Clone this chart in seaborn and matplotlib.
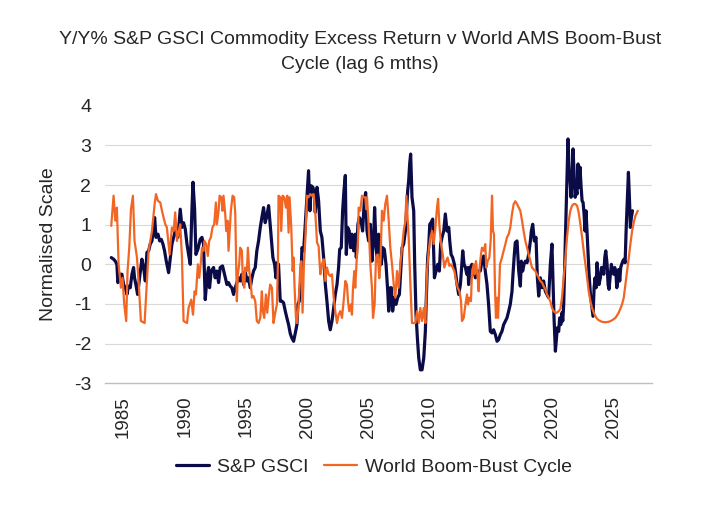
import matplotlib
matplotlib.use("Agg")
import matplotlib.pyplot as plt
import seaborn as sns

# -------------------------------
# Data (decimal years)
# -------------------------------
gsci_year = [
    1984.00, 1984.19, 1984.33, 1984.46, 1984.54, 1984.73, 1984.87, 1985.01, 1985.14, 1985.28,
    1985.41, 1985.55, 1985.69, 1985.82, 1985.90, 1986.01, 1986.15, 1986.31, 1986.50, 1986.64,
    1986.78, 1986.91, 1987.05, 1987.18, 1987.32, 1987.46, 1987.54, 1987.65, 1987.81, 1987.95,
    1988.08, 1988.22, 1988.35, 1988.49, 1988.68, 1988.82, 1988.95, 1989.22, 1989.44, 1989.63,
    1989.77, 1989.90, 1990.04, 1990.18, 1990.31, 1990.45, 1990.58, 1990.67, 1990.80, 1990.91,
    1991.07, 1991.26, 1991.40, 1991.53, 1991.67, 1991.81, 1991.94, 1992.02, 1992.16, 1992.35,
    1992.48, 1992.62, 1992.76, 1992.89, 1993.08, 1993.24, 1993.44, 1993.57, 1993.71, 1993.84,
    1993.98, 1994.12, 1994.25, 1994.39, 1994.52, 1994.66, 1994.80, 1994.93, 1995.07, 1995.20,
    1995.34, 1995.48, 1995.61, 1995.75, 1995.88, 1996.02, 1996.16, 1996.29, 1996.43, 1996.56,
    1996.70, 1996.84, 1996.92, 1997.05, 1997.19, 1997.33, 1997.44, 1997.52, 1997.65, 1997.79,
    1997.93, 1998.06, 1998.20, 1998.33, 1998.47, 1998.61, 1998.74, 1998.88, 1999.02, 1999.15,
    1999.23, 1999.34, 1999.48, 1999.56, 1999.70, 1999.83, 1999.97, 2000.10, 2000.21, 2000.32,
    2000.46, 2000.57, 2000.65, 2000.79, 2000.92, 2001.06, 2001.19, 2001.33, 2001.47, 2001.60,
    2001.74, 2001.87, 2002.01, 2002.15, 2002.28, 2002.42, 2002.55, 2002.64, 2002.77, 2002.88,
    2002.99, 2003.10, 2003.18, 2003.29, 2003.42, 2003.53, 2003.64, 2003.78, 2003.91, 2004.00,
    2004.13, 2004.24, 2004.38, 2004.51, 2004.65, 2004.76, 2004.87, 2005.00, 2005.14, 2005.27,
    2005.41, 2005.49, 2005.60, 2005.71, 2005.82, 2005.96, 2006.04, 2006.15, 2006.28, 2006.42,
    2006.56, 2006.64, 2006.77, 2006.86, 2006.96, 2007.10, 2007.24, 2007.37, 2007.51, 2007.65,
    2007.73, 2007.86, 2008.00, 2008.08, 2008.19, 2008.27, 2008.35, 2008.43, 2008.54, 2008.68,
    2008.76, 2008.87, 2008.98, 2009.09, 2009.22, 2009.36, 2009.50, 2009.63, 2009.71, 2009.82,
    2009.90, 2009.99, 2010.09, 2010.23, 2010.37, 2010.50, 2010.64, 2010.77, 2010.88, 2010.99,
    2011.13, 2011.26, 2011.40, 2011.54, 2011.62, 2011.73, 2011.86, 2012.00, 2012.08, 2012.22,
    2012.35, 2012.49, 2012.57, 2012.68, 2012.79, 2012.90, 2013.01, 2013.11, 2013.16, 2013.30,
    2013.43, 2013.57, 2013.71, 2013.84, 2013.98, 2014.11, 2014.25, 2014.39, 2014.52, 2014.66,
    2014.79, 2014.93, 2015.07, 2015.20, 2015.34, 2015.48, 2015.61, 2015.75, 2015.88, 2016.02,
    2016.16, 2016.29, 2016.43, 2016.56, 2016.70, 2016.78, 2016.89, 2016.97, 2017.11, 2017.25,
    2017.38, 2017.46, 2017.57, 2017.68, 2017.79, 2017.93, 2018.06, 2018.20, 2018.28, 2018.39,
    2018.52, 2018.66, 2018.77, 2018.88, 2019.01, 2019.15, 2019.28, 2019.42, 2019.56, 2019.69,
    2019.83, 2019.96, 2020.02, 2020.13, 2020.24, 2020.40, 2020.51, 2020.59, 2020.68, 2020.78,
    2020.84, 2020.92, 2021.00, 2021.08, 2021.19, 2021.27, 2021.36, 2021.44, 2021.52, 2021.60,
    2021.68, 2021.76, 2021.85, 2021.93, 2022.01, 2022.09, 2022.17, 2022.25, 2022.34, 2022.42,
    2022.50, 2022.58, 2022.66, 2022.74, 2022.83, 2022.91, 2022.99, 2023.10, 2023.23, 2023.31,
    2023.40, 2023.48, 2023.56, 2023.64, 2023.72, 2023.80, 2023.91, 2024.00, 2024.08, 2024.19,
    2024.27, 2024.35, 2024.46, 2024.54, 2024.62, 2024.70, 2024.81, 2024.89, 2025.00, 2025.08,
    2025.17, 2025.25, 2025.33, 2025.41, 2025.49, 2025.57, 2025.65, 2025.74, 2025.85, 2025.93,
    2026.01, 2026.12, 2026.20, 2026.28, 2026.36, 2026.44, 2026.53,
]
gsci_value = [
    0.17, 0.13, 0.08, 0.00, -0.46, -0.25, -0.25, -0.51, -0.59, -0.76,
    -0.55, -0.59, -0.25, -0.08, -0.34, -0.51, -0.76, -0.34, 0.13, -0.08,
    -0.42, 0.30, 0.34, 0.51, 0.59, 0.93, 1.18, 0.68, 0.76, 0.59,
    0.63, 0.51, 0.34, 0.08, -0.21, 0.17, 0.51, 0.84, 0.68, 1.39,
    0.93, 1.05, 0.89, 0.51, 0.25, 0.00, 1.35, 2.07, 1.40, 0.25,
    0.38, 0.63, 0.68, 0.51, -0.89, -0.34, -0.08, -0.59, -0.17, -0.08,
    -0.34, -0.17, -0.46, -0.08, -0.04, -0.25, -0.51, -0.46, -0.55, -0.59,
    -0.76, -0.59, -0.46, -0.34, -0.42, -0.25, -0.51, -0.17, -0.42, -0.34,
    -0.59, -0.34, -0.17, -0.08, 0.34, 0.59, 0.93, 1.18, 1.43, 1.05,
    1.22, 1.48, 1.18, 0.68, 0.17, 0.00, -0.34, 0.04, 0.00, -0.93,
    -0.93, -0.97, -1.18, -1.35, -1.52, -1.75, -1.86, -1.94, -1.73, -1.52,
    -1.01, -0.93, -0.34, 0.42, 0.34, 1.01, 1.77, 2.36, 1.35, 1.98,
    1.94, 1.77, 1.31, 1.94, 1.60, 0.84, 0.68, 0.17, -0.51, -0.93,
    -1.43, -1.65, -1.43, -1.10, -0.76, -0.51, -0.08, 0.38, 0.42, 1.35,
    1.86, 2.24, 0.25, 0.93, 0.84, 0.42, 0.76, 0.34, 0.76, 0.17,
    1.01, 1.18, 1.10, 0.84, 1.60, 1.81, 0.84, 0.59, 1.01, 0.08,
    0.68, 1.43, 0.51, 0.08, 0.76, 0.59, 0.00, 0.42, 0.38, 0.00,
    -0.68, -1.18, -0.59, -0.59, -1.18, -0.84, -1.01, -0.84, -0.76, 0.00,
    0.42, 0.51, 0.84, 1.27, 1.86, 2.11, 2.53, 2.78, 1.69, 1.35,
    0.00, -1.27, -1.86, -2.36, -2.66, -2.66, -2.36, -1.69, -0.84, 0.17,
    0.42, 1.01, 1.05, 1.14, -0.34, -0.17, 0.00, -0.17, 0.51, 0.68,
    0.84, 1.27, 0.84, 0.93, 0.59, 0.25, 0.17, 0.00, -0.17, -0.51,
    -0.76, -0.51, -0.17, 0.34, 0.00, -0.08, -0.25, -0.08, -0.51, -0.08,
    0.00, -0.08, -0.34, -0.25, -0.17, -0.17, 0.08, 0.21, -0.17, -0.51,
    -1.01, -1.69, -1.73, -1.65, -1.77, -1.94, -1.90, -1.77, -1.69, -1.52,
    -1.43, -1.35, -1.18, -1.01, -0.68, -0.25, 0.25, 0.55, 0.59, -0.17,
    -0.55, 0.08, -0.17, 0.00, 0.08, 0.04, 0.25, 0.59, 0.84, 1.01,
    0.59, 0.68, -0.34, -0.80, -0.34, -0.59, -0.42, -0.68, -0.76, -0.84,
    0.00, 0.51, -0.17, -1.35, -2.19, -1.60, -1.69, -1.35, -1.52, -1.22,
    -1.43, -1.01, 0.00, 0.93, 2.19, 3.16, 2.36, 2.11, 1.69, 2.19,
    2.91, 2.36, 1.69, 1.86, 1.77, 2.53, 1.94, 2.45, 1.94, 1.60,
    1.56, 1.27, 0.84, 1.35, 0.76, 0.25, -0.25, -0.76, -1.10, -1.31,
    -0.59, -0.34, -0.59, 0.04, -0.34, -0.51, -0.34, -0.08, -0.08, -0.25,
    0.17, 0.34, 0.00, -0.51, -0.63, -0.34, 0.00, -0.17, -0.25, -0.08,
    -0.17, -0.59, -0.42, -0.13, -0.42, -0.08, 0.00, 0.08, 0.13, 0.04,
    0.84, 1.69, 2.32, 1.69, 0.93, 1.18, 1.35,
]

boom_year = [
    1984.00, 1984.19, 1984.33, 1984.46, 1984.60, 1984.79, 1984.92, 1985.06, 1985.22, 1985.33,
    1985.47, 1985.61, 1985.77, 1985.90, 1986.10, 1986.23, 1986.42, 1986.72, 1986.91, 1987.05,
    1987.32, 1987.54, 1987.65, 1987.81, 1988.00, 1988.14, 1988.27, 1988.41, 1988.54, 1988.68,
    1988.76, 1988.95, 1989.09, 1989.22, 1989.36, 1989.50, 1989.63, 1989.77, 1989.90, 1990.18,
    1990.31, 1990.53, 1990.67, 1990.80, 1990.91, 1991.07, 1991.18, 1991.31, 1991.40, 1991.53,
    1991.61, 1991.75, 1991.88, 1991.99, 1992.13, 1992.26, 1992.40, 1992.54, 1992.62, 1992.76,
    1992.84, 1992.98, 1993.08, 1993.16, 1993.30, 1993.38, 1993.49, 1993.57, 1993.66, 1993.76,
    1993.90, 1994.03, 1994.12, 1994.20, 1994.25, 1994.33, 1994.44, 1994.52, 1994.66, 1994.74,
    1994.85, 1994.93, 1995.07, 1995.15, 1995.26, 1995.34, 1995.48, 1995.61, 1995.75, 1995.88,
    1996.02, 1996.16, 1996.29, 1996.37, 1996.48, 1996.62, 1996.73, 1996.84, 1996.97, 1997.11,
    1997.24, 1997.38, 1997.52, 1997.60, 1997.65, 1997.79, 1997.87, 1997.98, 1998.12, 1998.25,
    1998.36, 1998.47, 1998.55, 1998.69, 1998.80, 1998.88, 1998.96, 1999.07, 1999.15, 1999.29,
    1999.42, 1999.51, 1999.61, 1999.72, 1999.83, 1999.97, 2000.10, 2000.24, 2000.38, 2000.51,
    2000.65, 2000.79, 2000.92, 2001.06, 2001.19, 2001.33, 2001.47, 2001.60, 2001.74, 2001.87,
    2002.01, 2002.15, 2002.28, 2002.42, 2002.55, 2002.69, 2002.83, 2002.96, 2003.10, 2003.23,
    2003.32, 2003.42, 2003.56, 2003.64, 2003.72, 2003.83, 2003.91, 2004.05, 2004.13, 2004.19,
    2004.32, 2004.46, 2004.59, 2004.73, 2004.81, 2004.87, 2005.00, 2005.14, 2005.27, 2005.36,
    2005.49, 2005.60, 2005.74, 2005.87, 2005.96, 2006.09, 2006.23, 2006.36, 2006.50, 2006.64,
    2006.77, 2006.91, 2007.05, 2007.18, 2007.32, 2007.45, 2007.59, 2007.73, 2007.86, 2008.00,
    2008.08, 2008.19, 2008.27, 2008.41, 2008.54, 2008.68, 2008.82, 2008.95, 2009.09, 2009.22,
    2009.36, 2009.50, 2009.63, 2009.77, 2009.90, 2010.04, 2010.18, 2010.31, 2010.45, 2010.58,
    2010.67, 2010.77, 2010.91, 2011.05, 2011.18, 2011.32, 2011.45, 2011.59, 2011.73, 2011.86,
    2012.00, 2012.14, 2012.27, 2012.41, 2012.54, 2012.62, 2012.76, 2012.90, 2013.03, 2013.11,
    2013.22, 2013.35, 2013.43, 2013.57, 2013.65, 2013.76, 2013.90, 2013.98, 2014.06, 2014.17,
    2014.25, 2014.39, 2014.52, 2014.60, 2014.71, 2014.85, 2014.96, 2015.07, 2015.15, 2015.23,
    2015.31, 2015.39, 2015.48, 2015.56, 2015.64, 2015.72, 2015.88, 2016.02, 2016.16, 2016.29,
    2016.43, 2016.56, 2016.70, 2016.84, 2016.97, 2017.11, 2017.25, 2017.38, 2017.52, 2017.65,
    2017.79, 2017.93, 2018.06, 2018.20, 2018.33, 2018.47, 2018.61, 2018.74, 2018.88, 2019.01,
    2019.15, 2019.28, 2019.42, 2019.56, 2019.69, 2019.83, 2019.96, 2020.10, 2020.24, 2020.37,
    2020.51, 2020.65, 2020.78, 2020.92, 2021.06, 2021.19, 2021.33, 2021.46, 2021.60, 2021.74,
    2021.87, 2022.01, 2022.14, 2022.28, 2022.42, 2022.55, 2022.69, 2022.83, 2022.96, 2023.10,
    2023.23, 2023.37, 2023.51, 2023.64, 2023.78, 2024.05, 2024.32, 2024.59, 2024.87, 2025.14,
    2025.41, 2025.68, 2025.82, 2025.95, 2026.09, 2026.23, 2026.36, 2026.50, 2026.63, 2026.77,
    2026.96,
]
boom_value = [
    0.97, 1.73, 1.10, 1.43, 0.00, -0.59, -0.34, -1.01, -1.43, -0.17,
    0.42, 1.39, 1.73, 0.59, 0.17, -0.42, -1.43, -1.48, -0.42, 0.34,
    0.84, 1.52, 1.77, 1.60, 1.56, 1.35, 1.18, 1.01, 0.93, 0.51,
    0.25, 0.93, 0.84, 1.31, 0.59, 0.84, 1.01, 0.17, -1.43, -1.48,
    -1.10, -0.89, -1.27, -0.68, -0.76, 0.00, -0.34, 0.04, 0.42, 0.34,
    0.59, 0.51, 0.21, 0.59, 0.68, 0.93, 1.01, 1.56, 1.01, 1.35,
    1.73, 1.69, 1.35, 1.73, 1.27, 0.84, 1.10, 0.34, 0.84, 1.35,
    1.73, 1.69, 1.27, -0.17, -0.93, -0.25, 0.00, 0.42, 0.34, -0.42,
    -0.59, -0.08, -0.17, 0.42, -0.17, -0.34, -0.84, -0.80, -0.93, -1.43,
    -1.48, -1.35, -0.68, -1.18, -1.35, -0.76, -1.22, -0.84, -0.51, -0.59,
    -1.48, -1.22, -1.01, 0.00, 1.73, 1.69, 0.84, 1.73, 1.69, 1.43,
    1.73, 0.80, 1.69, 0.93, -0.17, 0.17, -0.59, -1.35, -1.48, -1.01,
    -0.08, 0.08, -1.22, 0.00, 0.59, 1.73, 1.69, 1.77, 1.73, 1.77,
    1.31, 0.55, 0.46, -0.25, 0.00, 0.13, -0.42, -0.08, -0.25, -0.30,
    -0.25, -0.84, -1.18, -1.48, -1.27, -1.18, -1.35, -0.93, -0.42, -0.51,
    -0.93, -1.18, -1.01, -1.27, -0.63, -0.17, -0.59, 0.25, 0.59, 1.43,
    1.35, 1.73, 1.69, 1.69, 1.39, 1.69, 1.01, 0.00, -0.59, -1.35,
    -1.01, 0.17, 0.25, -0.35, 0.00, 1.35, 1.10, 1.52, 1.73, 1.10,
    0.42, 0.00, -0.51, -0.84, -0.17, -0.59, 0.00, 0.42, 0.84, 1.10,
    1.73, 1.10, 0.68, -0.51, -1.48, -1.48, -1.48, -1.18, -1.48, -1.10,
    -1.43, -1.10, -1.48, -0.17, 0.34, 0.68, 0.84, 0.51, 0.93, 1.43,
    1.65, 1.01, 0.51, 0.25, -0.08, 0.08, 0.17, -0.04, 0.00, -0.08,
    -0.17, -0.42, -0.59, -0.68, -0.93, -1.43, -1.35, -1.01, -0.76, -1.01,
    -0.84, -0.93, -0.25, 0.00, -0.25, 0.08, -0.34, -0.68, -0.08, 0.25,
    0.42, 0.34, 0.51, -0.08, 0.08, 0.17, 0.59, 1.73, 0.84, 0.76,
    -0.59, -1.35, -0.84, -1.35, -0.76, 0.00, 0.17, 0.34, 0.51, 0.68,
    0.76, 0.93, 1.27, 1.52, 1.59, 1.52, 1.43, 1.35, 1.10, 0.84,
    0.59, 0.42, 0.25, 0.08, -0.08, -0.13, -0.17, -0.25, -0.34, -0.42,
    -0.46, -0.55, -0.63, -0.76, -0.84, -0.93, -1.10, -1.18, -1.22, -1.22,
    -1.18, -1.12, -0.84, -0.34, 0.17, 0.68, 1.10, 1.35, 1.48, 1.52,
    1.52, 1.48, 1.31, 1.01, 0.68, 0.34, 0.00, -0.34, -0.68, -0.93,
    -1.10, -1.22, -1.31, -1.37, -1.41, -1.45, -1.46, -1.45, -1.41, -1.35,
    -1.22, -1.01, -0.84, -0.51, -0.17, 0.17, 0.51, 0.84, 1.05, 1.22,
    1.35,
]

x_ticks = [1985, 1990, 1995, 2000, 2005, 2010, 2015, 2020, 2025]
y_ticks = [-3, -2, -1, 0, 1, 2, 3, 4]

NAVY = "#0b0b47"
ORANGE = "#f26522"

# -------------------------------
# Plot
# -------------------------------
sns.set_theme(style="white")
plt.rcParams["font.family"] = ["Liberation Sans", "DejaVu Sans"]

fig = plt.figure(figsize=(7.2, 5.18), dpi=100)
ax = fig.add_axes([0.146, 0.26, 0.76, 0.536])

sns.lineplot(x=gsci_year, y=gsci_value, color=NAVY, linewidth=2.3,
             estimator=None, sort=False, label="S&P GSCI", ax=ax)
sns.lineplot(x=boom_year, y=boom_value, color=ORANGE, linewidth=1.6,
             estimator=None, sort=False, label="World Boom-Bust Cycle", ax=ax)

ax.set_xlim(1983.5, 2028.15)
ax.set_ylim(-3, 4)
ax.set_xticks(x_ticks)
ax.set_xticklabels([str(t) for t in x_ticks], rotation=90, fontsize=13.5)
ax.set_yticks(y_ticks)
ax.set_yticklabels([str(t) for t in y_ticks], fontsize=14)

ax.tick_params(axis="x", direction="out", length=4, width=0.8, color="#bfbfbf", pad=5)
ax.tick_params(axis="y", length=0, pad=10)

for v in y_ticks[1:-1]:
    ax.axhline(v, color="#d9d9d9", linewidth=0.8, zorder=0)

for s in ["top", "right", "left"]:
    ax.spines[s].set_visible(False)
ax.spines["bottom"].set_color("#bfbfbf")
ax.spines["bottom"].set_linewidth(1)

ax.set_xlabel("")
ax.set_ylabel("Normalised Scale", fontsize=14, labelpad=12)

fig.text(0.5, 0.899, "Y/Y% S&P GSCI Commodity Excess Return v World AMS Boom-Bust\nCycle (lag 6 mths)",
         ha="center", va="center", fontsize=14, linespacing=1.6)

ax.get_legend().remove()
handles, labels = ax.get_legend_handles_labels()
fig.legend(handles, labels, loc="center", bbox_to_anchor=(0.519, 0.098), ncol=2,
           frameon=False, fontsize=14, handlelength=1.7, handletextpad=0.4,
           columnspacing=0.8)

plt.savefig("out.png", dpi=100)
